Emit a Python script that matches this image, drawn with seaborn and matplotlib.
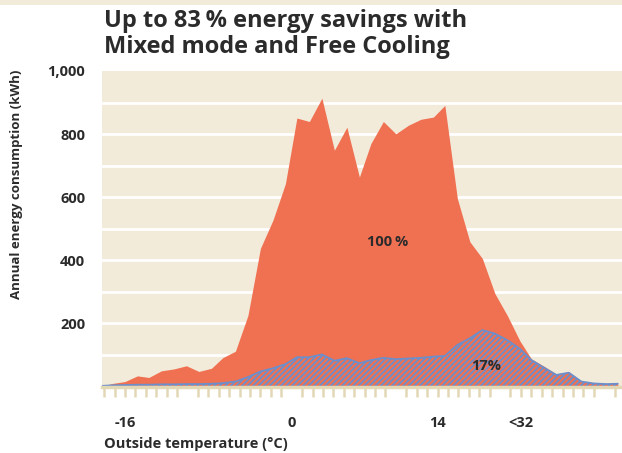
import numpy as np
import pandas as pd
import matplotlib
matplotlib.use("Agg")
import matplotlib.pyplot as plt
import seaborn as sns
from matplotlib.patches import Rectangle

# temperature bins (deg C) and consumption (kWh)
temps = [-18.4, -17.2, -16.0, -14.8, -13.7, -12.5, -11.3, -10.1, -8.9, -7.7,
         -6.6, -5.4, -4.2, -3.0, -1.8, -0.6, 0.5, 1.7, 2.9, 4.1,
         5.3, 6.5, 7.6, 8.8, 10.0, 11.2, 12.4, 13.6, 14.7, 15.9,
         17.1, 18.3, 19.5, 20.7, 21.9, 23.0, 24.2, 25.4, 26.6, 27.8,
         29.0, 30.2, 31.3]
standard = [0, 10, 16, 34, 29, 50, 56, 66, 48, 58,
            92, 112, 225, 438, 527, 643, 851, 840, 914, 749,
            822, 664, 770, 840, 801, 828, 847, 854, 891, 596,
            459, 406, 295, 225, 145, 88, 65, 40, 47, 17,
            12, 10, 9]
mixed = [2, 4, 5, 6, 6, 7, 7, 8, 8, 9,
         11, 16, 30, 48, 58, 71, 93, 93, 102, 82,
         90, 74, 84, 91, 87, 89, 91, 95, 97, 132,
         153, 179, 168, 147, 120, 84, 60, 37, 44, 16,
         10, 8, 9]

ytick_vals = [200, 400, 600, 800, 1000]
grid_vals = [100, 200, 300, 400, 500, 600, 700, 800, 900]
xlabel_pos = [-16, 0, 14, 22]
xlabel_txt = ["-16", "0", "14", "<32"]

df = pd.DataFrame({"temp": temps, "standard": standard, "mixed": mixed})

RED = "#F07052"
BLUE = "#6C8FCB"
BEIGE = "#F2EBDA"
TAN = "#E3D8B6"
DARK = "#2B2B2B"

sns.set_theme(style="white")
plt.rcParams["font.family"] = ["Open Sans", "DejaVu Sans"]
plt.rcParams["hatch.linewidth"] = 1.3

fig = plt.figure(figsize=(6.22, 4.53), dpi=100)
fig.add_artist(Rectangle((0, 1 - 5 / 453), 1, 5 / 453, transform=fig.transFigure,
                         color=BEIGE, lw=0))

ax = fig.add_axes([102 / 622, 1 - 386.6 / 453, 1 - 102 / 622, 315.6 / 453])
ax.set_facecolor(BEIGE)
for v in grid_vals:
    ax.axhline(v, color="white", lw=2.0, zorder=0.5)

ax.fill_between(df["temp"], 0, df["standard"], color=RED, lw=0, zorder=1)
ax.fill_between(df["temp"], 0, df["mixed"], facecolor=RED, edgecolor=BLUE,
                hatch="//////", lw=0, zorder=2)
sns.lineplot(data=df, x="temp", y="mixed", ax=ax, color=BLUE, lw=1.3, zorder=3)

ax.set_xlim(-18.2, 31.7)
ax.set_ylim(0, 1000)
for s in ["top", "right", "left"]:
    ax.spines[s].set_visible(False)
ax.spines["bottom"].set_color(TAN)
ax.spines["bottom"].set_linewidth(2.5)
ax.spines["bottom"].set_zorder(4)

ax.set_xticks([-10, 0, 10, 20, 30])
ax.set_xticks(range(-18, 32), minor=True)
ax.tick_params(axis="x", which="major", length=15, width=1.8, color=TAN,
               labelbottom=False, direction="out")
ax.tick_params(axis="x", which="minor", length=7, width=1.8, color=TAN,
               direction="out", bottom=True)
ax.set_yticks(ytick_vals)
ax.set_yticklabels([f"{v:,}" for v in ytick_vals])
ax.tick_params(axis="y", length=0, pad=12, labelsize=10.5, labelcolor=DARK)
for lbl in ax.get_yticklabels():
    lbl.set_fontweight("bold")
ax.set_xlabel("")
ax.set_ylabel("")

for p, t in zip(xlabel_pos, xlabel_txt):
    ax.text(p, -0.115, t, transform=ax.get_xaxis_transform(), ha="center",
            va="center", fontsize=10.5, fontweight="bold", color=DARK)

ax.text(9.2, 457, "100\u2009%", ha="center", va="center", fontsize=10.5,
        fontweight="bold", color=DARK, zorder=5)
ax.text(18.7, 65, "17%", ha="center", va="center", fontsize=10.5,
        fontweight="bold", color=DARK, zorder=5)

fig.text(104 / 622, 1 - 9 / 453, "Up to 83\u2009% energy savings with\nMixed mode and Free Cooling",
         ha="left", va="top", fontsize=17, fontweight="bold", color=DARK,
         linespacing=1.1)
fig.text(104 / 622, 1 - 444 / 453, "Outside temperature (\u00b0C)", ha="left",
         va="center", fontsize=10.5, fontweight="bold", color=DARK)
fig.text(17 / 622, 1 - 70 / 453, "Annual energy consumption (kWh)", rotation=90,
         ha="center", va="top", fontsize=9.5, fontweight="bold", color=DARK)

fig.savefig("out.png", dpi=100)
